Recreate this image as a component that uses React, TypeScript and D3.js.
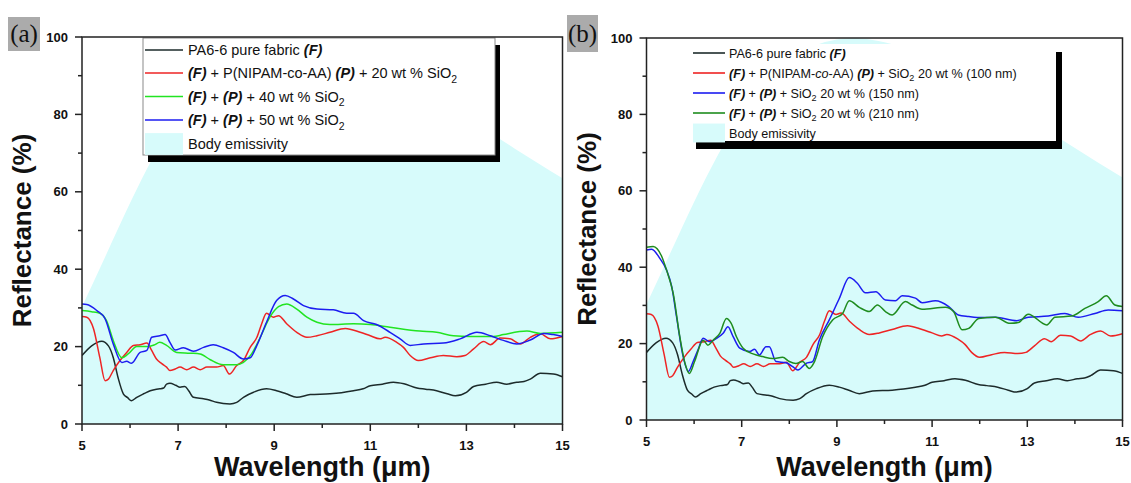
import React from 'react';
import * as d3 from 'd3';

// ---------- data ----------
const xMajorTicks = [5, 7, 9, 11, 13, 15];
const xMinorTicks = [6, 8, 10, 12, 14];
const yMajorTicks = [0, 20, 40, 60, 80, 100];
const yMinorTicks = [10, 30, 50, 70, 90];

const bodyWavelength = [5, 5.5, 6, 6.5, 7, 7.5, 8, 8.5, 9, 9.35, 9.5, 10, 10.5, 11, 11.5, 12, 12.5, 13, 13.5, 14, 14.5, 15];
const bodyEmissivity = [30.3, 43.7, 57.1, 69.4, 79.9, 88.1, 94.0, 97.8, 99.6, 100, 99.9, 98.9, 96.9, 94.2, 90.9, 87.2, 83.3, 79.2, 75.2, 71.2, 67.3, 63.5];

const pureFabric: [number, number][] = [
  [5, 17.7], [5.2, 20.2], [5.41, 21.4], [5.55, 20.2], [5.65, 17.2], [5.75, 12.0], [5.86, 7.8], [5.95, 6.8], [6.03, 6.0], [6.14, 6.9],
  [6.3, 7.9], [6.42, 8.6], [6.55, 9.0], [6.62, 9.1], [6.7, 9.3], [6.76, 10.3], [6.83, 10.5], [6.95, 10.0], [7.04, 9.5], [7.14, 9.7],
  [7.22, 8.6], [7.32, 6.9], [7.53, 6.5], [7.65, 6.2], [7.8, 5.6], [8.08, 5.2], [8.22, 5.6], [8.36, 6.9], [8.57, 8.2], [8.84, 9.1],
  [9.05, 8.6], [9.25, 7.8], [9.47, 6.9], [9.75, 7.6], [10.16, 7.8], [10.4, 8.1], [10.65, 8.6], [10.85, 9.1], [11.0, 9.9], [11.25, 10.3],
  [11.48, 10.8], [11.7, 10.4], [11.97, 9.3], [12.15, 9.0], [12.38, 8.6], [12.6, 7.8], [12.77, 7.3], [13.0, 8.2], [13.15, 9.7], [13.4, 10.3],
  [13.63, 10.8], [13.84, 10.3], [14.05, 10.8], [14.2, 11.0], [14.33, 11.6], [14.54, 13.1], [14.81, 12.9], [15, 12.2],
];

const sio2_20wt: [number, number][] = [
  [5, 27.8], [5.1, 27.6], [5.24, 24.6], [5.37, 17.2], [5.48, 11.2], [5.55, 11.6], [5.65, 13.8], [5.79, 16.4], [5.93, 18.5], [6.07, 20.3],
  [6.21, 20.5], [6.35, 20.9], [6.45, 19.0], [6.55, 16.8], [6.66, 15.6], [6.76, 14.7], [6.83, 13.8], [6.94, 14.2], [7.04, 14.7], [7.18, 14.0],
  [7.32, 14.7], [7.46, 14.0], [7.6, 14.7], [7.8, 14.7], [7.94, 15.1], [8.07, 12.9], [8.22, 15.1], [8.36, 16.4], [8.5, 19.8], [8.64, 22.4],
  [8.74, 25.9], [8.84, 28.6], [8.98, 27.6], [9.09, 28.0], [9.26, 25.9], [9.47, 23.7], [9.68, 22.4], [9.89, 22.8], [10.16, 23.7], [10.48, 24.7],
  [10.79, 23.7], [11.0, 22.8], [11.2, 22.0], [11.31, 22.4], [11.55, 21.1], [11.69, 19.8], [11.83, 17.7], [12.0, 16.4], [12.25, 17.1], [12.52, 17.7],
  [12.8, 17.4], [12.97, 17.7], [13.15, 19.4], [13.36, 21.3], [13.5, 20.5], [13.7, 22.2], [13.91, 22.0], [14.12, 20.7], [14.33, 22.4], [14.54, 23.3],
  [14.75, 22.0], [15, 22.6],
];

const sio2_40wt: [number, number][] = [
  [5, 29.3], [5.2, 29.0], [5.37, 28.6], [5.51, 26.7], [5.65, 21.6], [5.83, 17.1], [5.96, 18.1], [6.14, 20.0], [6.35, 20.0], [6.5, 20.4],
  [6.62, 21.1], [6.76, 20.3], [6.97, 18.5], [7.25, 18.3], [7.46, 18.1], [7.67, 16.6], [7.94, 15.3], [8.22, 15.3], [8.36, 15.9], [8.53, 18.1],
  [8.71, 22.4], [8.91, 27.6], [9.09, 30.3], [9.26, 31.0], [9.47, 29.7], [9.68, 27.6], [9.89, 26.3], [10.16, 25.7], [10.65, 25.9], [11.0, 25.7],
  [11.41, 25.0], [12.03, 24.0], [12.38, 23.7], [12.73, 22.8], [13.08, 22.6], [13.56, 22.6], [13.77, 23.1], [14.26, 24.0], [14.54, 23.4], [15, 23.7],
];

const sio2_50wt: [number, number][] = [
  [5, 31.0], [5.1, 30.9], [5.31, 29.3], [5.48, 27.2], [5.65, 20.7], [5.83, 15.9], [5.93, 16.2], [6.03, 15.7], [6.21, 18.5], [6.35, 19.0],
  [6.45, 22.4], [6.62, 22.8], [6.73, 23.1], [6.83, 21.1], [6.94, 19.1], [7.11, 19.7], [7.32, 18.8], [7.53, 19.8], [7.73, 20.5], [7.94, 19.7],
  [8.15, 18.5], [8.36, 16.8], [8.5, 17.1], [8.64, 20.3], [8.84, 26.3], [9.05, 31.9], [9.23, 33.2], [9.4, 32.3], [9.61, 30.6], [9.89, 29.7],
  [10.23, 29.5], [10.51, 28.6], [10.65, 28.6], [10.86, 26.7], [11.13, 25.7], [11.41, 23.7], [11.62, 22.0], [11.83, 20.3], [12.11, 20.7], [12.52, 20.9],
  [12.87, 22.0], [13.22, 23.7], [13.5, 22.8], [13.77, 21.6], [14.05, 20.7], [14.33, 21.7], [14.61, 23.4], [14.81, 23.1], [15, 22.6],
];

const size150nm: [number, number][] = [
  [5, 44.5], [5.11, 44.7], [5.28, 42.3], [5.42, 39.3], [5.53, 34.9], [5.63, 27.1], [5.77, 16.6], [5.88, 12.7], [5.98, 15.3], [6.08, 18.3],
  [6.19, 21.4], [6.33, 20.5], [6.47, 21.4], [6.61, 22.7], [6.71, 24.4], [6.82, 21.8], [6.96, 18.8], [7.17, 17.9], [7.27, 18.5], [7.37, 17.0],
  [7.51, 19.2], [7.58, 19.2], [7.72, 15.3], [7.93, 15.0], [8.07, 14.0], [8.18, 13.1], [8.35, 14.8], [8.49, 15.3], [8.63, 20.9], [8.84, 26.2],
  [9.05, 31.8], [9.26, 37.3], [9.43, 35.8], [9.6, 33.3], [9.82, 33.6], [10.02, 31.4], [10.23, 31.2], [10.37, 32.5], [10.65, 31.9], [10.79, 30.7],
  [11.07, 31.2], [11.35, 29.7], [11.55, 27.5], [11.77, 27.1], [12.05, 26.8], [12.33, 26.9], [12.78, 26.0], [13.02, 26.9], [13.44, 27.2], [13.79, 27.9],
  [14.07, 26.9], [14.42, 27.9], [14.7, 28.8], [15, 28.6],
];

const size210nm: [number, number][] = [
  [5, 45.2], [5.14, 45.4], [5.32, 42.8], [5.42, 39.3], [5.56, 33.2], [5.7, 21.8], [5.81, 14.8], [5.9, 12.2], [6.01, 15.3], [6.19, 20.9],
  [6.29, 19.6], [6.4, 20.9], [6.54, 22.7], [6.68, 26.6], [6.78, 25.3], [6.89, 21.8], [7.03, 18.8], [7.24, 17.3], [7.44, 16.6], [7.65, 16.1],
  [7.86, 16.4], [8.0, 15.3], [8.14, 14.8], [8.28, 15.3], [8.42, 13.5], [8.53, 15.3], [8.7, 21.8], [8.91, 26.2], [9.12, 27.9], [9.26, 31.2],
  [9.47, 29.5], [9.68, 28.4], [9.85, 30.1], [10.02, 28.4], [10.16, 27.5], [10.44, 31.0], [10.58, 30.1], [10.79, 29.0], [11.28, 29.5], [11.45, 28.4],
  [11.63, 23.6], [11.77, 24.0], [11.98, 26.6], [12.33, 26.9], [12.64, 25.3], [12.81, 25.5], [13.02, 27.7], [13.41, 24.9], [13.58, 26.9], [13.93, 27.2],
  [14.21, 29.2], [14.49, 31.0], [14.66, 32.5], [14.84, 30.1], [15, 29.7],
];

// ---------- rendering helpers ----------
type Seg = { t: string; b?: boolean; i?: boolean; sub?: boolean };
const FONT = "'Liberation Sans', Arial, Helvetica, sans-serif";

function RichText({ x, y, segs, size }: { x: number; y: number; segs: Seg[]; size: number }) {
  let shifted = false;
  const parts = segs.map((s, k) => {
    let dy = 0;
    if (s.sub && !shifted) { dy = size * 0.3; shifted = true; }
    else if (!s.sub && shifted) { dy = -size * 0.3; shifted = false; }
    return (
      <tspan key={k} dy={dy || undefined} fontWeight={s.b ? 'bold' : 'normal'} fontStyle={s.i ? 'italic' : 'normal'}
        fontSize={s.sub ? size * 0.72 : size}>{s.t}</tspan>
    );
  });
  return (
    <text x={x} y={y + size * 0.36} fontSize={size} fontFamily={FONT} fill="#111" style={{ whiteSpace: 'pre' }}>{parts}</text>
  );
}

type SeriesDef = { data: [number, number][]; color: string; label: Seg[] };

type PanelDef = {
  id: string;
  tag: string;
  left: number; right: number; top: number; bottom: number;
  tagBox: { x: number; y: number; w: number; h: number };
  series: SeriesDef[];
  drawOrder: number[];
  legend: {
    box: { x: number; y: number; w: number; h: number };
    border: boolean;
    shadow: number;
    lineX0: number; lineX1: number; textX: number;
    rows: number[]; size: number;
  };
};

const F: Seg = { t: '(F)', b: true, i: true };
const P: Seg = { t: '(P)', b: true, i: true };

const panels: PanelDef[] = [
  {
    id: 'a', tag: '(a)',
    left: 82, right: 562.5, top: 37, bottom: 424,
    tagBox: { x: 8, y: 17, w: 32, h: 34 },
    series: [
      { data: pureFabric, color: '#1d2b2b', label: [{ t: 'PA6-6 pure fabric ' }, F] },
      { data: sio2_20wt, color: '#ee2424', label: [F, { t: ' + P(NIPAM-co-AA) ' }, P, { t: ' + 20 wt % SiO' }, { t: '2', sub: true }] },
      { data: sio2_40wt, color: '#22e422', label: [F, { t: ' + ' }, P, { t: ' + 40 wt % SiO' }, { t: '2', sub: true }] },
      { data: sio2_50wt, color: '#1c1cf0', label: [F, { t: ' + ' }, P, { t: ' + 50 wt % SiO' }, { t: '2', sub: true }] },
    ],
    drawOrder: [0, 1, 2, 3],
    legend: {
      box: { x: 143, y: 38, w: 352, h: 117 }, border: true, shadow: 5,
      lineX0: 145, lineX1: 183, textX: 188,
      rows: [50, 73, 96.5, 120, 144], size: 14.5,
    },
  },
  {
    id: 'b', tag: '(b)',
    left: 646.5, right: 1122.5, top: 38, bottom: 420,
    tagBox: { x: 567, y: 15, w: 31, h: 37 },
    series: [
      { data: pureFabric, color: '#1d2b2b', label: [{ t: 'PA6-6 pure fabric ' }, F] },
      { data: sio2_20wt, color: '#ee2424', label: [F, { t: ' + P(NIPAM-' }, { t: 'co', i: true }, { t: '-AA) ' }, P, { t: ' + SiO' }, { t: '2', sub: true }, { t: ' 20 wt % (100 nm)' }] },
      { data: size150nm, color: '#1c1cf0', label: [F, { t: ' + ' }, P, { t: ' + SiO' }, { t: '2', sub: true }, { t: ' 20 wt % (150 nm)' }] },
      { data: size210nm, color: '#1f8c1f', label: [F, { t: ' + ' }, P, { t: ' + SiO' }, { t: '2', sub: true }, { t: ' 20 wt % (210 nm)' }] },
    ],
    drawOrder: [0, 1, 2, 3],
    legend: {
      box: { x: 690, y: 44, w: 366, h: 97 }, border: false, shadow: 6,
      lineX0: 693, lineX1: 725, textX: 729,
      rows: [53, 73, 93, 113, 133], size: 12.6,
    },
  },
];

const BODY_FILL = '#d7fbfb';

function Panel({ p }: { p: PanelDef }) {
  const x = d3.scaleLinear().domain([5, 15]).range([p.left, p.right]);
  const y = d3.scaleLinear().domain([0, 100]).range([p.bottom, p.top]);
  const bodyPts = bodyWavelength.map((w, i) => [w, bodyEmissivity[i]] as [number, number]);
  const area = d3.area<[number, number]>().x(d => x(d[0])).y0(y(0)).y1(d => y(d[1])).curve(d3.curveMonotoneX);
  const line = d3.line<[number, number]>().x(d => x(d[0])).y(d => y(d[1])).curve(d3.curveMonotoneX);
  const clipId = `clip-${p.id}`;
  const L = p.legend;
  const tickFont = 13;
  return (
    <g>
      <defs>
        <clipPath id={clipId}>
          <rect x={p.left} y={p.top} width={p.right - p.left} height={p.bottom - p.top} />
        </clipPath>
      </defs>
      <g clipPath={`url(#${clipId})`}>
        <path d={area(bodyPts) || ''} fill={BODY_FILL} />
        {p.drawOrder.map(i => (
          <path key={i} d={line(p.series[i].data) || ''} fill="none" stroke={p.series[i].color} strokeWidth={1.5} strokeLinejoin="round" />
        ))}
      </g>
      {/* legend */}
      <rect x={L.box.x + L.shadow} y={L.box.y + L.shadow + 2} width={L.box.w} height={L.box.h} fill="#000" />
      <rect x={L.box.x} y={L.box.y} width={L.box.w} height={L.box.h} fill="#fff"
        stroke={L.border ? '#8a8a8a' : 'none'} strokeWidth={1} />
      {p.series.map((s, i) => (
        <g key={i}>
          <line x1={L.lineX0} x2={L.lineX1} y1={L.rows[i]} y2={L.rows[i]} stroke={s.color} strokeWidth={1.6} />
          <RichText x={L.textX} y={L.rows[i]} segs={s.label} size={L.size} />
        </g>
      ))}
      <rect x={L.lineX0} y={L.rows[4] - L.size * 0.75} width={L.lineX1 - L.lineX0} height={L.size * 1.5} fill={BODY_FILL} />
      <RichText x={L.textX} y={L.rows[4]} segs={[{ t: 'Body emissivity' }]} size={L.size} />
      {/* frame */}
      <rect x={p.left} y={p.top} width={p.right - p.left} height={p.bottom - p.top} fill="none" stroke="#222" strokeWidth={1.5} />
      {/* x axis ticks */}
      {xMajorTicks.map(t => (
        <g key={`xm${t}`}>
          <line x1={x(t)} x2={x(t)} y1={p.bottom} y2={p.bottom + 7} stroke="#222" strokeWidth={1.5} />
          <text x={x(t)} y={p.bottom + 26} textAnchor="middle" fontFamily={FONT} fontWeight="bold" fontSize={tickFont} fill="#111">{t}</text>
        </g>
      ))}
      {xMinorTicks.map(t => (
        <line key={`xn${t}`} x1={x(t)} x2={x(t)} y1={p.bottom} y2={p.bottom + 4} stroke="#222" strokeWidth={1.5} />
      ))}
      {yMajorTicks.map(t => (
        <g key={`ym${t}`}>
          <line x1={p.left - 7} x2={p.left} y1={y(t)} y2={y(t)} stroke="#222" strokeWidth={1.5} />
          <text x={p.left - 14} y={y(t) + 4.5} textAnchor="end" fontFamily={FONT} fontWeight="bold" fontSize={tickFont} fill="#111">{t}</text>
        </g>
      ))}
      {yMinorTicks.map(t => (
        <line key={`yn${t}`} x1={p.left - 4} x2={p.left} y1={y(t)} y2={y(t)} stroke="#222" strokeWidth={1.5} />
      ))}
      {/* titles */}
      <text transform={`translate(${p.left - 51},${(p.top + p.bottom) / 2}) rotate(-90)`} textAnchor="middle"
        fontFamily={FONT} fontWeight="bold" fontSize={26} fill="#111">Reflectance (%)</text>
      <text x={(p.left + p.right) / 2} y={476} textAnchor="middle" fontFamily={FONT} fontWeight="bold" fontSize={27} fill="#111">Wavelength (μm)</text>
      {/* tag */}
      <rect x={p.tagBox.x} y={p.tagBox.y} width={p.tagBox.w} height={p.tagBox.h} fill="#ababab" />
      <text x={p.tagBox.x + p.tagBox.w / 2} y={p.tagBox.y + p.tagBox.h / 2 + 8} textAnchor="middle"
        fontFamily="'Liberation Serif', 'Times New Roman', serif" fontSize={25} fill="#111">{p.tag}</text>
    </g>
  );
}

export default function App() {
  return (
    <svg width={1131} height={483} viewBox="0 0 1131 483"
      style={{ position: 'absolute', left: 0, top: 0, display: 'block', background: '#fff' }}>
      <rect x={0} y={0} width={1131} height={483} fill="#fff" />
      {panels.map(p => <Panel key={p.id} p={p} />)}
    </svg>
  );
}
